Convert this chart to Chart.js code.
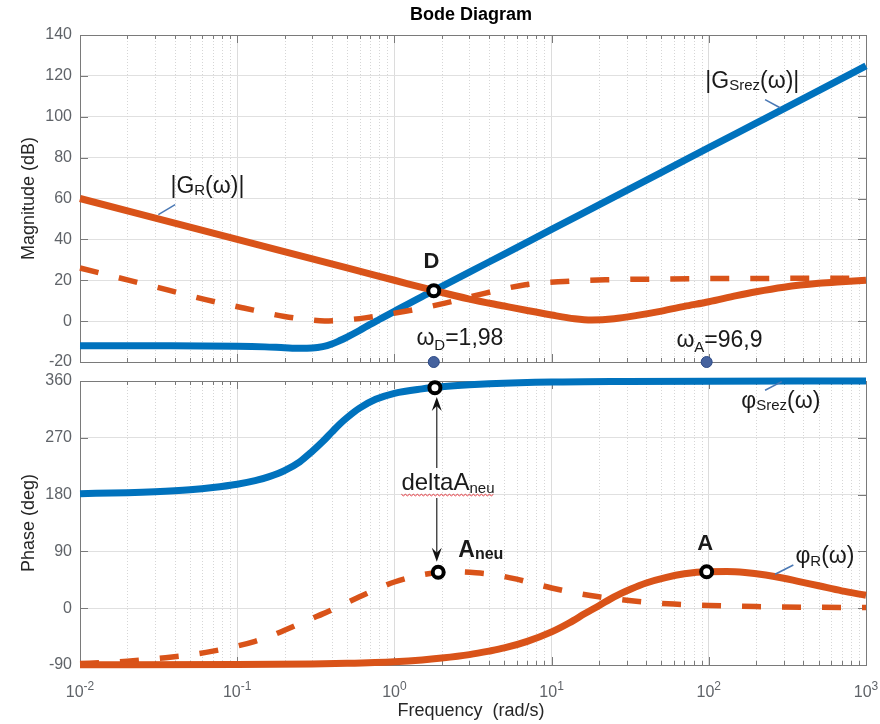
<!DOCTYPE html>
<html lang="en">
<head>
<meta charset="UTF-8">
<title>Bode Diagram</title>
<script src="https://cdn.jsdelivr.net/npm/chart.js"></script>
<style>
  body { margin: 0; background: #fff; }
  #wrap { position: relative; width: 880px; height: 724px; overflow: hidden; }
  #wrap canvas { position: absolute; left: 0; top: 0; }
</style>
</head>
<body>
<div id="wrap">
  <canvas id="mag" width="880" height="724"></canvas>
  <canvas id="phase" width="880" height="724"></canvas>
</div>
<script>
// ---- axes ----
const decades = [0.01, 0.1, 1, 10, 100, 1000];
const magTicks = [-20, 0, 20, 40, 60, 80, 100, 120, 140];
const phaseTicks = [-90, 0, 90, 180, 270, 360];

// ---- magnitude (dB) ----
const wSrezMag = [0.01, 0.03, 0.1, 0.15, 0.2, 0.25, 0.3, 0.35, 0.4, 0.45, 0.5, 0.6, 0.7, 0.8, 1, 1.5, 1.78, 3, 5, 10, 20, 50, 100, 200, 500, 1000];
const magSrez  = [-12, -12.05, -12.3, -12.6, -13.0, -13.25, -13.15, -12.5, -11.2, -9.5, -7.8, -4.6, -1.6, 0.8, 4.8, 12.0, 14.9, 24.0, 32.8, 44.9, 56.9, 72.8, 84.9, 96.9, 112.8, 124.9];

const wRMag = [0.01, 0.1, 0.5, 1, 1.78, 3, 5, 7, 10, 14, 18, 25, 35, 50, 70, 100, 150, 200, 300, 500, 700, 1000];
const magR  = [60, 40, 26, 20, 15, 10.8, 7.4, 5.2, 3.0, 1.2, 0.6, 1.2, 2.8, 4.9, 7.2, 9.5, 12.5, 14.4, 16.6, 18.5, 19.3, 20];

const wNeuMag = [0.01, 0.02, 0.036, 0.064, 0.11, 0.2, 0.3, 0.36, 0.45, 0.65, 1.15, 2.1, 3.8, 6.8, 12, 22, 50, 100, 1000];
const magNeu  = [26, 20.2, 15.3, 10.4, 6.4, 2.3, 0.5, 0.1, 0.4, 1.6, 4.7, 8.8, 13.7, 17.8, 19.4, 20.2, 20.6, 20.8, 21];

// ---- phase (deg) ----
const wSrezPh = [0.01, 0.02, 0.03, 0.05, 0.07, 0.1, 0.13, 0.16, 0.2, 0.25, 0.3, 0.35, 0.4, 0.45, 0.5, 0.6, 0.76, 1, 1.5, 2, 3, 4, 10, 30, 100, 1000];
const phSrez  = [181.5, 183, 184.6, 187.8, 191.2, 196.4, 202, 208.5, 218, 232, 248.5, 264, 279, 292, 302, 317, 331, 340.5, 347.5, 350.8, 354, 355.6, 358.4, 359.4, 359.8, 360];

const wRPh = [0.01, 0.1, 0.3, 0.5, 1, 1.5, 2, 3, 4, 5, 7, 10, 13, 16.3, 20, 25, 32, 40, 53, 70, 97, 130, 170, 230, 300, 370, 500, 700, 1000];
const phR  = [-89.8, -89.3, -88.3, -87.3, -84.8, -82, -79, -73.5, -68, -63, -52.5, -37.5, -23, -8.5, 4, 18, 30.5, 40, 48.5, 54.5, 57.8, 58, 56.5, 52.5, 47.5, 42.5, 35.5, 27.5, 20.5];

const wNeuPh = [0.01, 0.015, 0.02, 0.035, 0.05, 0.07, 0.1, 0.13, 0.16, 0.2, 0.25, 0.3, 0.35, 0.45, 0.6, 0.8, 1, 1.4, 1.9, 2.5, 3.3, 4.4, 6, 8, 10, 15, 20, 30, 40, 60, 100, 200, 500, 1000];
const phNeu  = [-87.5, -86, -84, -78.5, -74, -68, -60, -52.5, -45, -35, -24.5, -16, -9, 3.5, 18, 32, 41.5, 51.5, 56.5, 57.5, 56, 52.5, 46, 38, 32, 23, 18, 12.5, 9.5, 6.5, 4.3, 2.5, 1.4, 1];

// ---- marked points ----
const ringsMag   = [[1.78, 14.9]];
const dotsMag    = [[1.78, -20], [96.9, -20]];
const ringsPhase = [[1.81, 349.5], [1.9, 57], [96.9, 57.8]];

const FONT = '"Liberation Sans", Arial, Helvetica, sans-serif';
const BLUE = '#0072BD', ORANGE = '#D95319';
const TICK_COLOR = '#5f6368', TEXT = '#1a1a1a', POINTER = '#4a78b4';

Chart.defaults.font.family = FONT;
Chart.defaults.font.size = 16;

function series(ws, vs) { return ws.map((w, i) => ({ x: w, y: vs[i] })); }
function pts(list) { return list.map(p => ({ x: p[0], y: p[1] })); }

function lineDs(data, color, width, dash) {
  return { data, borderColor: color, borderWidth: width, borderDash: dash || [],
           pointRadius: 0, cubicInterpolationMode: 'monotone', fill: false, clip: false };
}
function ringDs(data) {
  return { data, showLine: false, pointRadius: 5.5, pointBorderWidth: 4,
           pointBorderColor: '#000', pointBackgroundColor: '#fff', clip: false };
}

function xScale() {
  return {
    type: 'logarithmic', min: 0.01, max: 1000,
    afterBuildTicks: s => { s.ticks = decades.map(v => ({ value: v, major: true })); },
    afterFit: s => { s.height = 0; },
    ticks: { display: false },
    grid: { color: '#dcdcdc', lineWidth: 1, drawTicks: false },
    border: { display: false }
  };
}
function yScale(min, max, list) {
  return {
    min, max,
    afterBuildTicks: s => { s.ticks = list.map(v => ({ value: v })); },
    afterFit: s => { s.width = 80; },
    ticks: { padding: 8, color: TICK_COLOR, font: { size: 16 }, autoSkip: false, callback: v => String(v) },
    grid: { color: '#e0e0e0', lineWidth: 1, drawTicks: false },
    border: { display: false }
  };
}

function P(chart, w, v) {
  return [chart.scales.x.getPixelForValue(w), chart.scales.y.getPixelForValue(v)];
}

// parts: [text, size, bold, dy]
function rich(ctx, x, y, parts, align) {
  let total = 0;
  parts.forEach(p => { ctx.font = (p[2] ? 'bold ' : '') + p[1] + 'px ' + FONT; total += ctx.measureText(p[0]).width; });
  let cx = align === 'center' ? x - total / 2 : x;
  const x0 = cx;
  ctx.textAlign = 'left';
  ctx.textBaseline = 'alphabetic';
  parts.forEach(p => {
    ctx.font = (p[2] ? 'bold ' : '') + p[1] + 'px ' + FONT;
    ctx.fillText(p[0], cx, y + (p[3] || 0));
    cx += ctx.measureText(p[0]).width;
  });
  return { x0, w: total };
}

function segment(ctx, a, b) {
  ctx.beginPath(); ctx.moveTo(a[0], a[1]); ctx.lineTo(b[0], b[1]); ctx.stroke();
}

// frame, inward ticks, dotted minor grid
const frame = {
  id: 'frame',
  beforeDatasetsDraw(chart) {
    const { ctx, chartArea: a, scales: { x, y } } = chart;
    ctx.save();
    ctx.strokeStyle = '#d6d6d6'; ctx.lineWidth = 1; ctx.setLineDash([1, 2]);
    decades.slice(0, -1).forEach(d => {
      for (let k = 2; k <= 9; k++) {
        const px = Math.round(x.getPixelForValue(d * k)) + 0.5;
        segment(ctx, [px, a.top], [px, a.bottom]);
      }
    });
    ctx.setLineDash([]);
    ctx.strokeStyle = '#7a7a7a'; ctx.lineWidth = 1;
    decades.forEach((d, i) => {
      for (let k = 1; k <= 9; k++) {
        if (i === decades.length - 1 && k > 1) break;
        const px = Math.round(x.getPixelForValue(d * k)) + 0.5;
        const len = k === 1 ? 8 : 4;
        segment(ctx, [px, a.bottom], [px, a.bottom - len]);
        segment(ctx, [px, a.top], [px, a.top + len]);
      }
    });
    y.ticks.forEach(t => {
      const py = Math.round(y.getPixelForValue(t.value)) + 0.5;
      segment(ctx, [a.left, py], [a.left + 8, py]);
      segment(ctx, [a.right, py], [a.right - 8, py]);
    });
    ctx.strokeRect(Math.round(a.left) + 0.5, Math.round(a.top) + 0.5,
                   Math.round(a.right - a.left), Math.round(a.bottom - a.top));
    ctx.restore();
  }
};

function axisTitle(ctx, text, x, y, rot) {
  ctx.save();
  ctx.translate(x, y); if (rot) ctx.rotate(-Math.PI / 2);
  ctx.font = '18px ' + FONT; ctx.fillStyle = '#262626';
  ctx.textAlign = 'center'; ctx.textBaseline = 'middle';
  ctx.fillText(text, 0, 0);
  ctx.restore();
}

const magNotes = {
  id: 'magNotes',
  afterDatasetsDraw(chart) {
    const { ctx, chartArea: a } = chart;
    ctx.save();
    ctx.font = 'bold 18px ' + FONT; ctx.fillStyle = '#000';
    ctx.textAlign = 'center'; ctx.textBaseline = 'middle';
    ctx.fillText('Bode Diagram', 471, 15);
    axisTitle(ctx, 'Magnitude (dB)', 29.5, (a.top + a.bottom) / 2, true);

    ctx.strokeStyle = POINTER; ctx.lineWidth = 1.5;
    segment(ctx, P(chart, 0.0403, 57), P(chart, 0.0315, 52.1));
    segment(ctx, P(chart, 228, 108.4), P(chart, 284, 104.4));

    ctx.fillStyle = TEXT;
    let p = P(chart, 0.0376, 62.7);
    rich(ctx, p[0], p[1], [['|G', 23], ['R', 15, false, 2], ['(ω)|', 23]]);
    p = P(chart, 95.1, 114.2);
    rich(ctx, p[0], p[1], [['|G', 23], ['Srez', 15, false, 2], ['(ω)|', 23]]);
    p = P(chart, 1.72, 26);
    rich(ctx, p[0], p[1], [['D', 22, true]], 'center');
    p = P(chart, 1.38, -11.6);
    rich(ctx, p[0], p[1], [['ω', 23], ['D', 15, false, 5], ['=1,98', 23]]);
    p = P(chart, 62.2, -12.5);
    rich(ctx, p[0], p[1], [['ω', 23], ['A', 15, false, 5], ['=96,9', 23]]);
    ctx.restore();
  }
};

function arrowHead(ctx, tip, dir) {
  ctx.beginPath();
  ctx.moveTo(tip[0], tip[1]);
  ctx.lineTo(tip[0] - 5, tip[1] + dir * 14);
  ctx.lineTo(tip[0], tip[1] + dir * 9);
  ctx.lineTo(tip[0] + 5, tip[1] + dir * 14);
  ctx.closePath(); ctx.fill();
}

const phaseNotes = {
  id: 'phaseNotes',
  afterDatasetsDraw(chart) {
    const { ctx, scales: { x } } = chart;
    const a = chart.chartArea;
    ctx.save();
    axisTitle(ctx, 'Phase (deg)', 29.5, (a.top + a.bottom) / 2, true);
    ctx.font = '18px ' + FONT; ctx.fillStyle = '#262626';
    ctx.textAlign = 'center'; ctx.textBaseline = 'middle';
    ctx.fillText('Frequency  (rad/s)', 471, 711);

    // x tick labels 10^n
    ctx.fillStyle = TICK_COLOR;
    decades.forEach(d => {
      const e = Math.round(Math.log10(d));
      rich(ctx, x.getPixelForValue(d), 697, [['10', 16], [String(e), 12, false, -7]], 'center');
    });

    // pointers
    ctx.strokeStyle = POINTER; ctx.lineWidth = 1.5;
    segment(ctx, P(chart, 228, 345.4), P(chart, 291, 358.9));
    segment(ctx, P(chart, 264, 53.8), P(chart, 345, 68.5));

    // double arrow
    ctx.strokeStyle = '#333'; ctx.fillStyle = '#111'; ctx.lineWidth = 1.3;
    const top = P(chart, 1.86, 334.8), gapTop = P(chart, 1.86, 222);
    const gapBot = P(chart, 1.86, 174.5), bot = P(chart, 1.86, 73.7);
    segment(ctx, [top[0], top[1] + 8], gapTop);
    segment(ctx, gapBot, [bot[0], bot[1] - 8]);
    arrowHead(ctx, top, 1);
    arrowHead(ctx, bot, -1);

    ctx.fillStyle = TEXT;
    let p = P(chart, 161, 316.5);
    rich(ctx, p[0], p[1], [['φ', 23], ['Srez', 15, false, 2], ['(ω)', 23]]);
    p = P(chart, 355.6, 71.2);
    rich(ctx, p[0], p[1], [['φ', 23], ['R', 15, false, 3], ['(ω)', 23]]);
    p = P(chart, 95, 92.2);
    rich(ctx, p[0], p[1], [['A', 22, true]], 'center');
    p = P(chart, 2.55, 81.6);
    rich(ctx, p[0], p[1], [['A', 23, true], ['neu', 16, true, 2]]);
    p = P(chart, 1.108, 187.2);
    const box = rich(ctx, p[0], p[1], [['deltaA', 24], ['neu', 15, false, 3]]);

    // spell-check squiggle
    ctx.strokeStyle = '#e5333b'; ctx.lineWidth = 1;
    ctx.beginPath();
    const sy = p[1] + 5;
    for (let i = 0; i <= box.w; i += 2) {
      const yy = sy + ((i / 2) % 2 ? 1 : -1) * 0.8;
      if (i === 0) ctx.moveTo(box.x0 + i, yy); else ctx.lineTo(box.x0 + i, yy);
    }
    ctx.stroke();
    ctx.restore();
  }
};

const common = {
  responsive: false,
  animation: false,
  devicePixelRatio: 1,
  plugins: { legend: { display: false }, tooltip: { enabled: false } },
  elements: { line: { borderCapStyle: 'butt', borderJoinStyle: 'round' } }
};

new Chart(document.getElementById('mag'), {
  type: 'line',
  data: {
    datasets: [
      ringDs(pts(ringsMag)),
      { data: pts(dotsMag), showLine: false, pointRadius: 5.5, pointBorderWidth: 1,
        pointBorderColor: '#2d4a86', pointBackgroundColor: '#45629e', clip: false },
      lineDs(series(wRMag, magR), ORANGE, 7),
      lineDs(series(wNeuMag, magNeu), ORANGE, 5.5, [19, 21]),
      lineDs(series(wSrezMag, magSrez), BLUE, 7)
    ]
  },
  options: Object.assign({}, common, {
    layout: { padding: { left: 0, right: 14, top: 35, bottom: 362 } },
    scales: { x: xScale(), y: yScale(-20, 140, magTicks) }
  }),
  plugins: [frame, magNotes]
});

new Chart(document.getElementById('phase'), {
  type: 'line',
  data: {
    datasets: [
      ringDs(pts(ringsPhase)),
      lineDs(series(wRPh, phR), ORANGE, 7),
      lineDs(series(wNeuPh, phNeu), ORANGE, 5.5, [19, 21]),
      lineDs(series(wSrezPh, phSrez), BLUE, 7)
    ]
  },
  options: Object.assign({}, common, {
    layout: { padding: { left: 0, right: 14, top: 381, bottom: 59 } },
    scales: { x: xScale(), y: yScale(-90, 360, phaseTicks) }
  }),
  plugins: [frame, phaseNotes]
});
</script>
</body>
</html>
